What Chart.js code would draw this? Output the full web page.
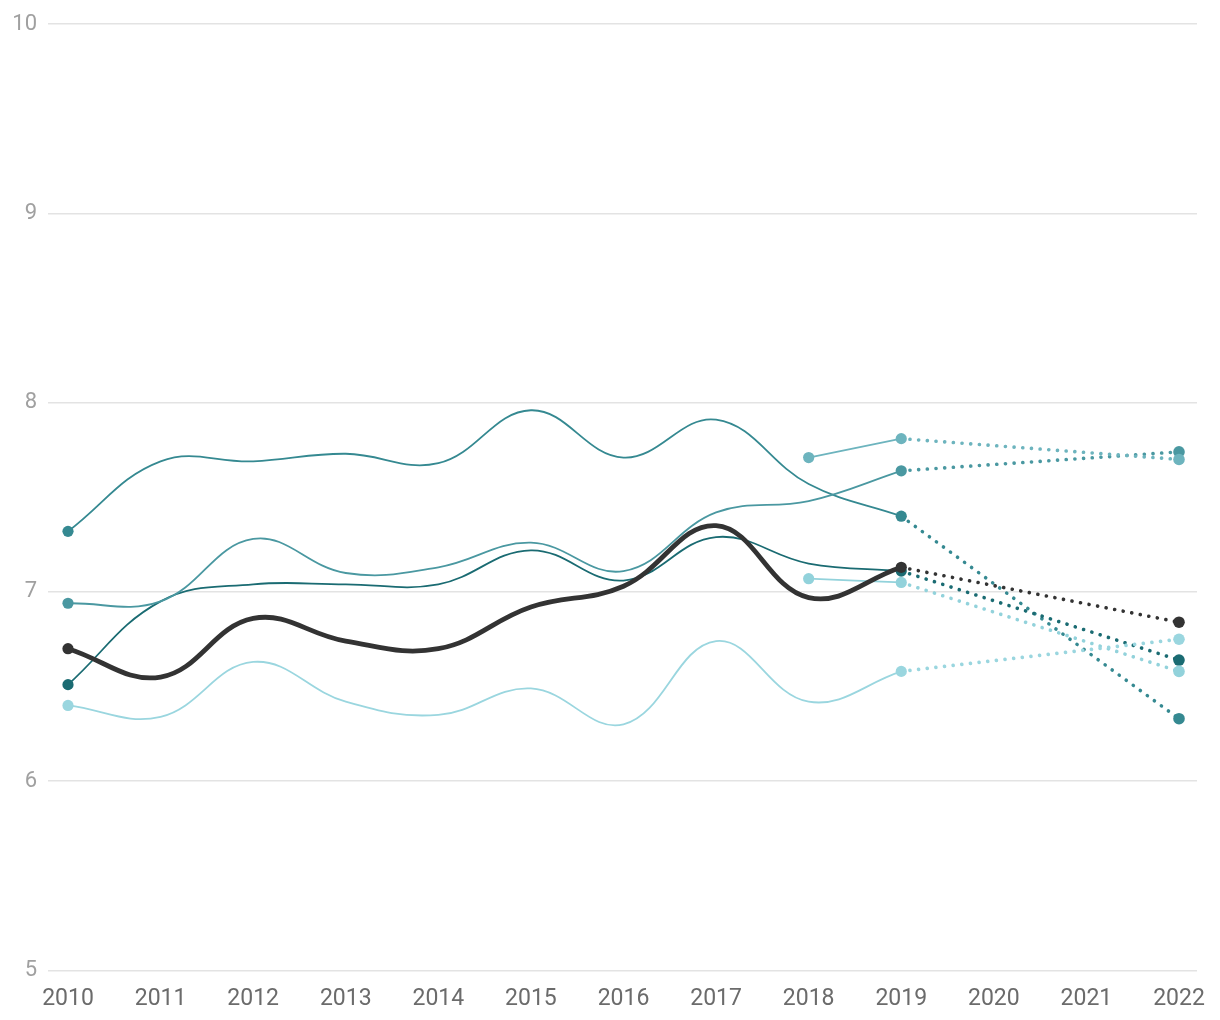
<!DOCTYPE html>
<html>
<head>
<meta charset="utf-8">
<script src="https://cdn.jsdelivr.net/npm/chart.js@4/dist/chart.umd.min.js"></script>
<style>
html,body{margin:0;padding:0;background:#fff;}
#wrap{width:1220px;height:1020px;position:relative;}
</style>
</head>
<body>
<div id="wrap"><canvas id="c"></canvas></div>
<script>
const years = [2010,2011,2012,2013,2014,2015,2016,2017,2018,2019,2020,2021,2022];
const yTicks = [5,6,7,8,9,10];

// solid 2010-2019 series
const seriesTop   = [7.32,7.69,7.69,7.73,7.68,7.96,7.71,7.91,7.57,7.40];
const seriesMid   = [6.94,6.95,7.28,7.10,7.13,7.26,7.11,7.42,7.48,7.64];
const seriesDark  = [6.51,6.95,7.04,7.04,7.04,7.22,7.06,7.29,7.15,7.11];
const seriesLight = [6.40,6.34,6.63,6.42,6.35,6.49,6.30,6.74,6.42,6.58];
const seriesBlack = [6.70,6.55,6.86,6.74,6.70,6.92,7.03,7.35,6.97,7.13];
// short 2018-2019 series
const shortTeal  = [7.71,7.81];
const shortLight = [7.07,7.05];
// 2022 values (dotted)
const proj2022 = {top:6.33, mid:7.74, dark:6.64, light:6.75, black:6.84, shortTeal:7.70, shortLight:6.58};

const colors = {top:'#358991', mid:'#4a98a1', dark:'#1a6b72', light:'#9ad6df', black:'#333333', shortTeal:'#6db4be', shortLight:'#92d2db'};

function full(arr, startIdx){
  const out = years.map(()=>null);
  arr.forEach((v,i)=>{ out[startIdx+i]=v; });
  return out;
}
function endPointsRadius(startIdx, endIdx, r){
  return years.map((_,i)=> (i===startIdx||i===endIdx) ? r : 0);
}
function dotted(v2019, v2022){
  const out = years.map(()=>null);
  out[9]=v2019; out[12]=v2022;
  return out;
}

const datasets = [];
function addSeries(key, arr, startIdx, width){
  const c = colors[key];
  datasets.push({
    data: dotted(arr[arr.length-1], proj2022[key]),
    borderColor: c, backgroundColor: c, borderWidth: 3.6,
    borderDash: [0.1, 8.6], borderCapStyle: 'round',
    spanGaps: true, tension: 0,
    pointRadius: years.map((_,i)=> i===12 ? 5.8 : 0),
    pointBorderWidth: 0, pointHoverRadius: 0, order: key==='black'?1:5
  });
  datasets.push({
    data: full(arr, startIdx),
    borderColor: c, backgroundColor: c, borderWidth: width,
    tension: 0.4, spanGaps: false,
    pointRadius: endPointsRadius(startIdx, 9, 5.6),
    pointBorderWidth: 0, pointHoverRadius: 0, order: key==='black'?0:4
  });
}
addSeries('light', seriesLight, 0, 1.8);
addSeries('shortLight', shortLight, 8, 1.8);
addSeries('shortTeal', shortTeal, 8, 1.8);
addSeries('mid', seriesMid, 0, 1.8);
addSeries('dark', seriesDark, 0, 1.8);
addSeries('top', seriesTop, 0, 1.8);
addSeries('black', seriesBlack, 0, 4.8);

new Chart(document.getElementById('c'), {
  type: 'line',
  data: { labels: years, datasets },
  options: {
    responsive: true, maintainAspectRatio: false, animation: false,
    layout: { padding: { top: 12, right: 23, bottom: 0, left: 0 } },
    plugins: { legend: {display:false}, tooltip: {enabled:false} },
    scales: {
      x: {
        type: 'linear',
        min: 2010 - 20/92.58, max: 2022 + 18/92.58,
        afterBuildTicks: s => { s.ticks = years.map(v=>({value:v})); },
        grid: { display:false }, border: { display:false },
        ticks: { color:'#6b6b6b', font:{family:'Roboto', size:23}, padding: 7, maxRotation:0, autoSkip:false,
          callback: v => String(v) }
      },
      y: {
        min: 5, max: 10,
        afterBuildTicks: s => { s.ticks = yTicks.map(v=>({value:v})); },
        afterFit: s => { s.width = 48; },
        grid: { color:'#e3e3e3', lineWidth: 1.5, drawTicks:false },
        border: { display:false },
        ticks: { color:'#a0a0a0', font:{family:'Roboto', size:22}, padding: 11 }
      }
    }
  }
});
</script>
</body>
</html>
